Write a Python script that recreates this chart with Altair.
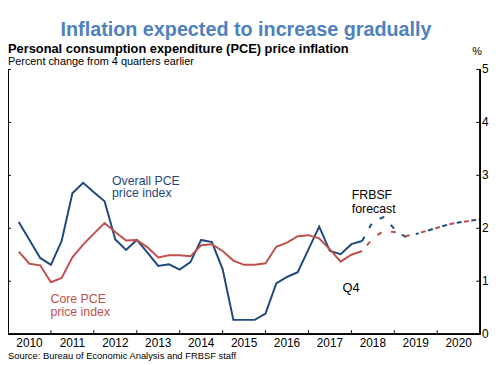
import altair as alt
import pandas as pd

# ---------------- data ----------------
years = [2010, 2011, 2012, 2013, 2014, 2015, 2016, 2017, 2018, 2019, 2020]
y_ticks = [0, 1, 2, 3, 4, 5]

# quarterly, 4-quarter % change, 2010Q1 .. 2018Q1 (actual)
overall_hist = [2.12, 1.78, 1.44, 1.31, 1.76, 2.66, 2.86, 2.68, 2.51, 1.79, 1.59, 1.78,
                1.54, 1.29, 1.32, 1.22, 1.36, 1.78, 1.74, 1.23, 0.27, 0.27, 0.27, 0.39,
                0.96, 1.08, 1.17, 1.60, 2.03, 1.57, 1.51, 1.70, 1.76]
core_hist = [1.56, 1.33, 1.30, 0.98, 1.06, 1.45, 1.69, 1.90, 2.10, 1.93, 1.77, 1.78,
             1.64, 1.45, 1.49, 1.49, 1.47, 1.68, 1.70, 1.57, 1.39, 1.31, 1.31, 1.34,
             1.65, 1.73, 1.85, 1.87, 1.81, 1.60, 1.37, 1.50, 1.57]

# FRBSF forecast, 2018Q1 .. 2020Q4
overall_fc = [1.76, 2.13, 2.21, 1.99, 1.84, 1.89, 1.95, 2.01, 2.07, 2.11, 2.14, 2.17]
core_fc = [1.57, 1.81, 1.95, 1.93, 1.85, 1.89, 1.95, 2.01, 2.07, 2.11, 2.14, 2.17]

# ---------------- tables ----------------
n_hist = len(overall_hist)
hist = pd.DataFrame({"q": list(range(1, n_hist + 1)),
                     "overall": overall_hist, "core": core_hist})
fc = pd.DataFrame({"q": list(range(n_hist, n_hist + len(overall_fc))),
                   "overall": overall_fc, "core": core_fc})
merge_q = 38
fc_a = fc[fc.q <= merge_q]
fc_b = fc[fc.q >= merge_q]

yr = pd.DataFrame({"year": years})
yr["pos"] = (yr["year"] - years[0]) * 4 + 2
yr["label"] = yr["year"].astype(str)
year_bounds = pd.DataFrame({"b": [(y - years[0]) * 4 for y in years] + [len(years) * 4]})
yt = pd.DataFrame({"v": y_ticks})
yt["label"] = yt["v"].astype(str)

W, H = 478, 268
BLUE = "#1F497D"
RED = "#C0504D"
FONT = "Liberation Sans"

x_scale = alt.Scale(domain=[0, len(years) * 4], nice=False, zero=False)
y_scale = alt.Scale(domain=[0, 5], nice=False)

X = alt.X("q:Q", scale=x_scale, axis=None)


def Y(col):
    return alt.Y(col + ":Q", scale=y_scale, axis=None)


lines = [
    alt.Chart(hist).mark_line(color=BLUE, strokeWidth=2).encode(x=X, y=Y("overall")),
    alt.Chart(hist).mark_line(color=RED, strokeWidth=2).encode(x=X, y=Y("core")),
    alt.Chart(fc_a).mark_line(color=BLUE, strokeWidth=2, strokeDash=[5, 10]).encode(x=X, y=Y("overall")),
    alt.Chart(fc_a).mark_line(color=RED, strokeWidth=2, strokeDash=[5, 10], strokeDashOffset=7.5).encode(x=X, y=Y("core")),
    alt.Chart(fc_b).mark_line(color=BLUE, strokeWidth=2, strokeDash=[5, 10], strokeDashOffset=2).encode(x=X, y=Y("overall")),
    alt.Chart(fc_b).mark_line(color=RED, strokeWidth=2, strokeDash=[5, 10], strokeDashOffset=9.5).encode(x=X, y=Y("core")),
]

frame = [
    # left and right frame lines, bottom axis line
    alt.Chart(yt).mark_rule(color="black", strokeWidth=1).encode(
        x=alt.value(0), y=alt.value(0), y2=alt.value(H)),
    alt.Chart(yt).mark_rule(color="black", strokeWidth=1).encode(
        x=alt.value(W), y=alt.value(0), y2=alt.value(H)),
    alt.Chart(yt).mark_rule(color="black", strokeWidth=1).encode(
        x=alt.value(0), x2=alt.value(W), y=alt.value(H)),
    # inward ticks
    alt.Chart(yt).mark_rule(color="black", strokeWidth=1).encode(
        y=alt.Y("v:Q", scale=y_scale, axis=None), x=alt.value(0), x2=alt.value(3)),
    alt.Chart(yt).mark_rule(color="black", strokeWidth=1).encode(
        y=alt.Y("v:Q", scale=y_scale, axis=None), x=alt.value(W - 4), x2=alt.value(W)),
    alt.Chart(year_bounds).mark_rule(color="black", strokeWidth=1).encode(
        x=alt.X("b:Q", scale=x_scale, axis=None), y=alt.value(H - 4), y2=alt.value(H)),
    # tick labels
    alt.Chart(yr).mark_text(font=FONT, fontSize=12, color="black", align="center",
                            baseline="alphabetic").encode(
        x=alt.X("pos:Q", scale=x_scale, axis=None), y=alt.value(H + 13.5), text="label:N"),
    alt.Chart(yt).mark_text(font=FONT, fontSize=12, color="black", align="left",
                            baseline="middle").encode(
        y=alt.Y("v:Q", scale=y_scale, axis=None), x=alt.value(W + 2), text="label:N"),
]

one = pd.DataFrame({"k": [0]})


def txt(text, x, y, size, color="black", weight="normal", align="left", lh=None):
    kw = dict(text=text, fontSize=size, font=FONT, color=color, fontWeight=weight,
              align=align, baseline="alphabetic")
    if lh is not None:
        kw["lineHeight"] = lh
    return alt.Chart(one).mark_text(**kw).encode(x=alt.value(x), y=alt.value(y))


texts = [
    txt("Inflation expected to increase gradually", 241, -34.3, 20, "#4F81BD", "bold", "center"),
    txt("Personal consumption expenditure (PCE) price inflation", 0, -16.3, 13, "black", "bold"),
    txt("Percent change from 4 quarters earlier", 0, -4, 11),
    txt("%", 475, -14.7, 11, align="center"),
    txt("Source: Bureau of Economic Analysis and FRBSF staff", 0, 293, 9.5),
    txt(["Overall PCE", "price index"], 105.3, 116.5, 12.5, BLUE, lh=13),
    txt(["Core PCE", "price index"], 43, 236.5, 12.5, RED, lh=13),
    txt(["FRBSF", "forecast"], 348, 131.5, 12.5, lh=14),
    txt("Q4", 338.7, 225.3, 13),
]

chart = alt.layer(*lines, *frame, *texts).properties(
    width=W, height=H,
    autosize=alt.AutoSizeParams(type="none"),
    padding={"left": 0, "top": 60, "right": 12, "bottom": 28},
).configure_view(stroke=None)

chart.save("out.html", embed_options={"renderer": "svg", "actions": False})
